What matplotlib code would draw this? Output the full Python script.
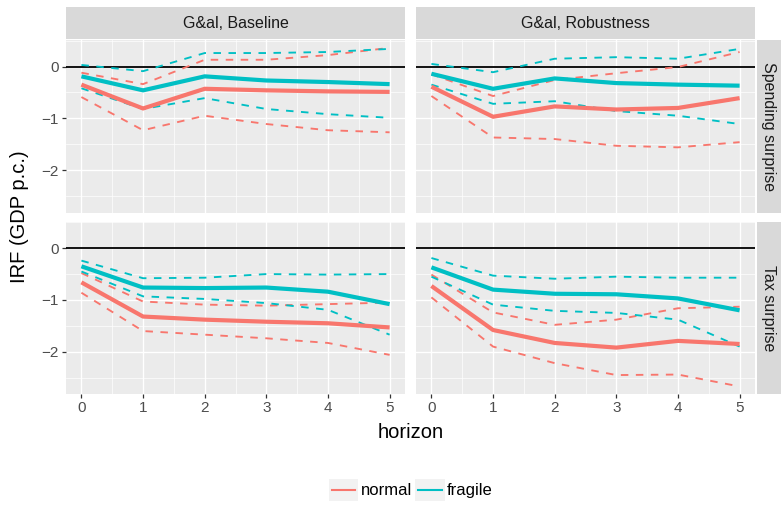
import matplotlib
matplotlib.use("Agg")
import matplotlib.pyplot as plt
from matplotlib.lines import Line2D
from matplotlib.patches import Rectangle
from matplotlib.legend_handler import HandlerLine2D

plt.rcParams['font.family'] = ['Liberation Sans', 'DejaVu Sans']

horizon = [0, 1, 2, 3, 4, 5]
col_labels = ["G&al, Baseline", "G&al, Robustness"]
row_labels = ["Spending surprise", "Tax surprise"]
series_labels = ["normal", "fragile"]
y_ticks = [0, -1, -2]

# Baseline, spending surprise
bs_normal = [-0.35, -0.81, -0.43, -0.46, -0.48, -0.49]
bs_normal_lo = [-0.59, -1.23, -0.95, -1.11, -1.23, -1.27]
bs_normal_hi = [-0.12, -0.34, 0.13, 0.13, 0.22, 0.36]
bs_fragile = [-0.19, -0.46, -0.19, -0.27, -0.30, -0.34]
bs_fragile_lo = [-0.42, -0.82, -0.61, -0.82, -0.92, -0.99]
bs_fragile_hi = [0.03, -0.09, 0.26, 0.26, 0.28, 0.34]

# Robustness, spending surprise
rs_normal = [-0.39, -0.97, -0.77, -0.83, -0.80, -0.61]
rs_normal_lo = [-0.57, -1.37, -1.40, -1.53, -1.56, -1.46]
rs_normal_hi = [-0.15, -0.57, -0.26, -0.13, -0.01, 0.28]
rs_fragile = [-0.14, -0.43, -0.23, -0.32, -0.35, -0.37]
rs_fragile_lo = [-0.35, -0.72, -0.67, -0.86, -0.95, -1.11]
rs_fragile_hi = [0.05, -0.11, 0.15, 0.18, 0.15, 0.34]

# Baseline, tax surprise
bt_normal = [-0.66, -1.32, -1.38, -1.42, -1.45, -1.53]
bt_normal_lo = [-0.86, -1.60, -1.67, -1.74, -1.83, -2.06]
bt_normal_hi = [-0.48, -1.03, -1.09, -1.11, -1.08, -1.05]
bt_fragile = [-0.35, -0.76, -0.77, -0.76, -0.84, -1.08]
bt_fragile_lo = [-0.45, -0.93, -0.98, -1.06, -1.19, -1.67]
bt_fragile_hi = [-0.24, -0.58, -0.57, -0.50, -0.51, -0.50]

# Robustness, tax surprise
rt_normal = [-0.73, -1.58, -1.83, -1.92, -1.79, -1.85]
rt_normal_lo = [-0.95, -1.90, -2.22, -2.45, -2.44, -2.67]
rt_normal_hi = [-0.51, -1.24, -1.48, -1.38, -1.16, -1.13]
rt_fragile = [-0.37, -0.80, -0.88, -0.89, -0.97, -1.20]
rt_fragile_lo = [-0.55, -1.09, -1.21, -1.25, -1.38, -1.90]
rt_fragile_hi = [-0.19, -0.53, -0.59, -0.55, -0.57, -0.57]

panels = {
    (0, 0): [(bs_normal, bs_normal_lo, bs_normal_hi), (bs_fragile, bs_fragile_lo, bs_fragile_hi)],
    (0, 1): [(rs_normal, rs_normal_lo, rs_normal_hi), (rs_fragile, rs_fragile_lo, rs_fragile_hi)],
    (1, 0): [(bt_normal, bt_normal_lo, bt_normal_hi), (bt_fragile, bt_fragile_lo, bt_fragile_hi)],
    (1, 1): [(rt_normal, rt_normal_lo, rt_normal_hi), (rt_fragile, rt_fragile_lo, rt_fragile_hi)],
}

colors = ["#F8766D", "#00BFC4"]
W, H = 783, 507
fig = plt.figure(figsize=(W / 100, H / 100), dpi=100)

def fr(x0, y0, x1, y1):
    return [x0 / W, 1 - y1 / H, (x1 - x0) / W, (y1 - y0) / H]

col_x = [(66, 405), (416, 755)]
row_y = [(40, 212.7), (221.7, 394.3)]

all_vals = []
for k, v in panels.items():
    for s in v:
        for arr in s:
            all_vals += arr
ymin, ymax = min(all_vals), max(all_vals)
pad = 0.05 * (ymax - ymin)

for (r, c), series in panels.items():
    x0, x1 = col_x[c]
    y0, y1 = row_y[r]
    ax = fig.add_axes(fr(x0, y0, x1, y1))
    ax.set_facecolor("#EBEBEB")
    for sp in ax.spines.values():
        sp.set_visible(False)
    ax.set_xlim(-0.25, 5.25)
    ax.set_ylim(ymin - pad, ymax + pad)
    ax.set_xticks(horizon)
    ax.set_xticks([h + 0.5 for h in horizon[:-1]], minor=True)
    ax.set_yticks(y_ticks)
    ax.set_yticks([0.5, -0.5, -1.5, -2.5], minor=True)
    ax.grid(True, which="major", color="white", lw=1.0)
    ax.grid(True, which="minor", color="white", lw=0.5)
    ax.set_axisbelow(True)
    ax.tick_params(which="minor", length=0)
    ax.tick_params(which="major", length=3, width=0.9, color="#333333",
                   labelcolor="#4D4D4D", labelsize=11, pad=2)
    if c == 0:
        ax.set_yticklabels(["0", "\u22121", "\u22122"])
    else:
        ax.tick_params(axis="y", which="major", length=0, labelleft=False)
    if r == 0:
        ax.tick_params(axis="x", which="major", length=0, labelbottom=False)
    ax.axhline(0, color="black", lw=1.3, zorder=2)
    for (mid, lo, hi), colr in zip(series, colors):
        ax.plot(horizon, lo, color=colr, lw=1.35, dashes=(4, 4), zorder=3)
        ax.plot(horizon, hi, color=colr, lw=1.35, dashes=(4, 4), zorder=3)
        ax.plot(horizon, mid, color=colr, lw=3.0, solid_capstyle="butt", zorder=4)

# strips
for c, lab in enumerate(col_labels):
    x0, x1 = col_x[c]
    sax = fig.add_axes(fr(x0, 7, x1, 39.3))
    sax.set_facecolor("#D9D9D9")
    sax.set_xticks([]); sax.set_yticks([])
    for sp in sax.spines.values():
        sp.set_visible(False)
    sax.text(0.5, 0.5, lab, ha="center", va="center", fontsize=11.5,
             color="#1A1A1A", transform=sax.transAxes)
for r, lab in enumerate(row_labels):
    y0, y1 = row_y[r]
    sax = fig.add_axes(fr(756.5, y0, 781, y1))
    sax.set_facecolor("#D9D9D9")
    sax.set_xticks([]); sax.set_yticks([])
    for sp in sax.spines.values():
        sp.set_visible(False)
    sax.text(0.5, 0.5, lab, ha="center", va="center", fontsize=11.5,
             color="#1A1A1A", rotation=-90, transform=sax.transAxes)

fig.text((66 + 755) / 2 / W, 1 - 433 / H, "horizon", ha="center", va="center",
         fontsize=14.5, color="black")
fig.text(20 / W, 1 - 217 / H, "IRF (GDP p.c.)", ha="center", va="center",
         fontsize=14.5, color="black", rotation=90)


class KeyHandler(HandlerLine2D):
    def create_artists(self, legend, orig_handle, xdescent, ydescent,
                       width, height, fontsize, trans):
        rect = Rectangle((-xdescent, -ydescent), width, height,
                         facecolor="#F2F2F2", edgecolor="none", transform=trans)
        ym = -ydescent + height / 2
        line = Line2D([-xdescent + 0.1 * width, -xdescent + 0.9 * width], [ym, ym],
                      color=orig_handle.get_color(), lw=1.5, transform=trans)
        return [rect, line]


handles = [Line2D([], [], color=colr) for colr in colors]
fig.legend(handles, series_labels, loc="center", bbox_to_anchor=(411 / W, 17 / H),
           ncol=2, frameon=False, fontsize=12, handlelength=1.75, handleheight=1.7,
           handletextpad=0.15, columnspacing=0.2, borderpad=0, borderaxespad=0,
           handler_map={Line2D: KeyHandler()})

fig.savefig("out.png", dpi=100)
